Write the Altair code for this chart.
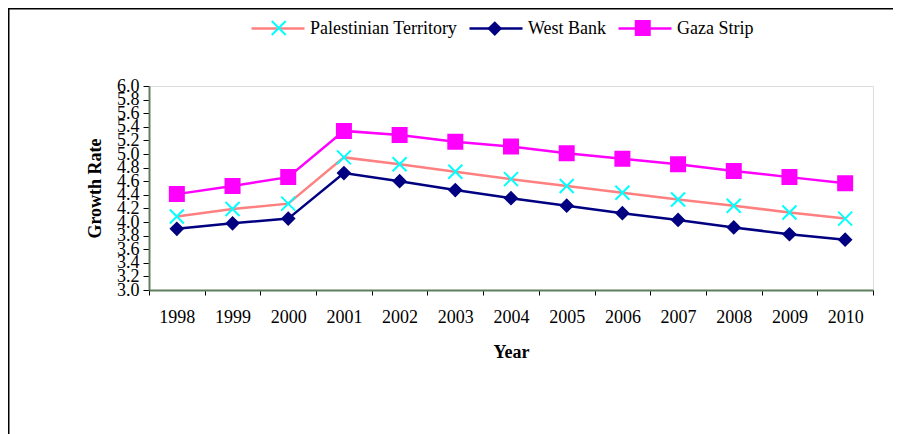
import altair as alt
import pandas as pd

years = [1998, 1999, 2000, 2001, 2002, 2003, 2004, 2005, 2006, 2007, 2008, 2009, 2010]
series_names = ["Palestinian Territory", "West Bank", "Gaza Strip"]
pt_values = [4.08, 4.19, 4.27, 4.95, 4.85, 4.74, 4.63, 4.53, 4.43, 4.33, 4.24, 4.14, 4.05]
wb_values = [3.90, 3.98, 4.05, 4.72, 4.60, 4.47, 4.35, 4.24, 4.13, 4.03, 3.92, 3.82, 3.74]
gaza_values = [4.41, 4.53, 4.66, 5.34, 5.28, 5.18, 5.11, 5.01, 4.93, 4.85, 4.75, 4.66, 4.57]
y_ticks = [round(3.0 + 0.2 * i, 1) for i in range(16)]

line_colors = ["#ff8080", "#000080", "#ff00ff"]
marker_colors = ["#00ffff", "#000080", "#ff00ff"]
marker_shapes = ["M-1,-1L1,1M-1,1L1,-1", "M-0.85,0L0,-0.85L0.85,0L0,0.85Z", "square"]

# marker legend uses a zero-width-space suffixed copy of the names so that it stays separate
marker_names = [n + "\u200b" for n in series_names]

rows = []
for name, mname, vals in zip(series_names, marker_names, [pt_values, wb_values, gaza_values]):
    for yr, v in zip(years, vals):
        rows.append({"year": str(yr), "value": v, "series": name, "series2": mname})
df = pd.DataFrame(rows)

FONT = "Liberation Serif"

x_enc = alt.X(
    "year:O",
    sort=[str(y) for y in years],
    scale=alt.Scale(type="band", paddingInner=0, paddingOuter=0),
    axis=alt.Axis(
        title="Year", tickBand="extent", labelAngle=0, labelFont=FONT, labelFontSize=18,
        labelColor="black", labelPadding=13, tickSize=5, tickColor="black",
        domainColor="#5f7f5f", domainWidth=2, titleFont=FONT, titleFontSize=18,
        titleFontWeight="bold", titleColor="black", titleY=62, titleBaseline="middle",
        grid=False,
    ),
)
y_enc = alt.Y(
    "value:Q",
    scale=alt.Scale(domain=[3.0, 6.0], nice=False, zero=False),
    axis=alt.Axis(
        title="Growth Rate", values=y_ticks, format=".1f", labelFont=FONT, labelFontSize=18,
        labelColor="black", labelPadding=4, tickSize=6, tickColor="black",
        domainColor="#5f7f5f", domainWidth=2, titleFont=FONT, titleFontSize=18,
        titleFontWeight="bold", titleColor="black", titleX=-54, titleY=102,
        titleAngle=270, titleAlign="center", titleBaseline="middle", grid=False,
        labelOverlap=False, labelBound=False, labelFlush=False,
    ),
)

legend1 = alt.Legend(
    title=None, orient="none", legendX=101, legendY=-85.5, direction="horizontal", columns=3,
    symbolType="stroke", symbolSize=2809, symbolStrokeWidth=2.5, labelFont=FONT,
    labelFontSize=18, labelColor="black", labelOffset=4, columnPadding=6, labelLimit=400,
)
legend2 = alt.Legend(
    title=None, orient="none", legendX=120.75, legendY=-67, direction="horizontal", columns=3,
    symbolSize=196, symbolStrokeWidth=2, labelFont=FONT, labelFontSize=18, labelOpacity=0,
    labelOffset=43.5, columnPadding=6, labelLimit=400,
)

lines = alt.Chart(df).mark_line(strokeWidth=2.5).encode(
    x=x_enc, y=y_enc,
    color=alt.Color("series:N", scale=alt.Scale(domain=series_names, range=line_colors), legend=legend1),
)
points = alt.Chart(df).mark_point(filled=True, size=196, strokeWidth=2, opacity=1).encode(
    x=x_enc, y=y_enc,
    shape=alt.Shape("series2:N", scale=alt.Scale(domain=marker_names, range=marker_shapes), legend=legend2),
    fill=alt.Fill("series2:N", scale=alt.Scale(domain=marker_names, range=marker_colors), legend=legend2),
    stroke=alt.Stroke("series2:N", scale=alt.Scale(domain=marker_names, range=marker_colors), legend=legend2),
)
frame = alt.Chart(pd.DataFrame({"a": [0]})).mark_rect(
    filled=False, stroke="black", strokeWidth=1.5, clip=False
).encode(x=alt.value(-140.25), x2=alt.value(900), y=alt.value(-77.25), y2=alt.value(500))

chart = alt.layer(frame, lines, points).properties(
    width=724, height=204,
    autosize=alt.AutoSizeParams(type="none"),
    padding={"left": 141, "top": 78, "right": 20, "bottom": 144},
).configure_view(stroke="#ccffcc", strokeWidth=2.5).configure(background="white")

chart.save("out.html", embed_options={"renderer": "svg", "actions": False})
